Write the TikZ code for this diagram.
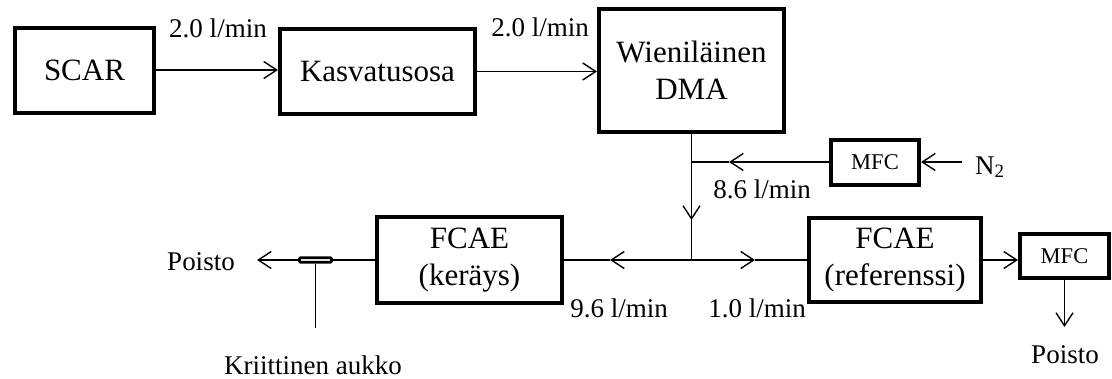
\documentclass[tikz,border=0pt]{standalone}
\usepackage{fontspec}
\setmainfont{Liberation Serif}
\usetikzlibrary{arrows.meta,calc}

\tikzset{
  unit/.style={draw, line width=4pt, inner sep=0pt, align=center,
    font=\fontsize{31}{37}\selectfont},
  smallunit/.style={draw, line width=4pt, inner sep=0pt, align=center,
    font=\fontsize{22.5}{26}\selectfont},
  pipe/.style={line width=1.4pt},
  flow/.style={line width=1.4pt, -{Straight Barb[length=13pt,width=17pt,line width=1.4pt]}},
  rate/.style={anchor=base, inner sep=0pt, font=\fontsize{27}{32}\selectfont},
  orifice/.style={draw, line width=2.6pt, rounded corners=1pt, inner sep=0pt,
    minimum width=32pt, minimum height=4.5pt}
}

\begin{document}
\begin{tikzpicture}[x=1pt,y=-1pt]
\useasboundingbox (0,0) rectangle (1112,378);

% upper chain
\node[unit, minimum width=139pt, minimum height=85pt] (scar) at (84.5,70) {SCAR};
\node[unit, minimum width=195pt, minimum height=85pt] (kasv) at (377.5,71.5) {Kasvatusosa};
\node[unit, minimum width=185pt, minimum height=123pt] (dma) at (691.5,70.5) {Wieniläinen\\DMA};

\draw[flow] (scar.east) -- (scar.east -| kasv.west);
\draw[flow] (kasv.east) -- (kasv.east -| dma.west);
\node[rate] (r1) at (218,37) {2.0 l/min};
\node[rate] (r2) at (540,36) {2.0 l/min};

% dilution nitrogen
\node[smallunit, minimum width=88pt, minimum height=45pt] (mfca) at (875,162) {MFC};
\node[rate, anchor=base west] (n2) at (975,174) {N\textsubscript{2}};
\coordinate (n2in) at (962,162);
\draw[flow] (n2in) -- (mfca.east);

\coordinate (join) at (691.5,260);
\coordinate (tee) at (dma.south |- mfca.west);
\coordinate (tipa) at (729,162);
\coordinate (tipb) at (691.5,220);
\draw[pipe] (dma.south) -- (join);
\draw[flow] (mfca.west) -- (tipa);
\draw[pipe] (tipa) -- (tee);
\draw[flow] (dma.south) -- (tipb);
\node[rate] (r3) at (762,198) {8.6 l/min};

% lower chain
\node[unit, minimum width=185pt, minimum height=86pt] (fcaek) at (469.5,260) {FCAE\\(keräys)};
\node[unit, minimum width=172pt, minimum height=84pt] (fcaer) at (895,260) {FCAE\\(referenssi)};
\node[smallunit, minimum width=89pt, minimum height=44pt] (mfcb) at (1064.5,256) {MFC};

\coordinate (tipc) at (610,260);
\coordinate (tipd) at (755,260);
\draw[flow] (join) -- (tipc);
\draw[pipe] (tipc) -- (fcaek.east);
\draw[flow] (join) -- (tipd);
\draw[pipe] (tipd) -- (fcaer.west);
\node[rate] (r4) at (619,317) {9.6 l/min};
\node[rate] (r5) at (757,317) {1.0 l/min};

\draw[flow] (fcaer.east) -- (fcaer.east -| mfcb.west);
\coordinate (outb) at (1064.5,327);
\draw[flow] (mfcb.south) -- (outb);
\node[rate] (poistob) at (1065,363) {Poisto};

% critical orifice and exhaust
\node[orifice] (aukko) at (315.5,260) {};
\coordinate (outa) at (257,260);
\coordinate (stem) at (315.5,328);
\draw[pipe] (fcaek.west) -- (aukko.east);
\draw[flow] (aukko.west) -- (outa);
\draw[pipe] (aukko.south) -- (stem);
\node[rate] (poistoa) at (201,270) {Poisto};
\node[rate, text depth=0pt] (krit) at (313,374) {Kriittinen aukko};
\end{tikzpicture}
\end{document}
